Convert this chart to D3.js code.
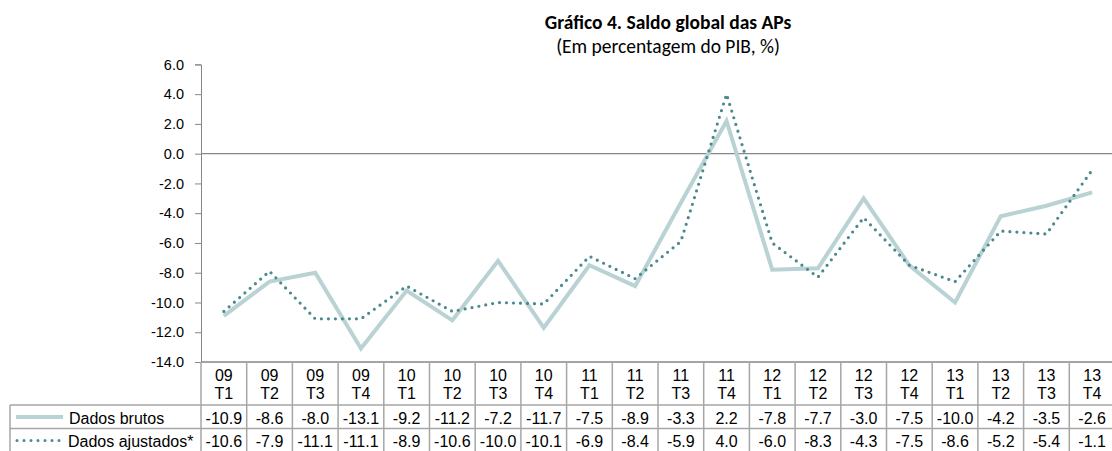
<!DOCTYPE html>
<html><head><meta charset="utf-8">
<script src="https://cdn.jsdelivr.net/npm/d3@7"></script>
<style>html,body{margin:0;padding:0;background:#fff;overflow:hidden}</style>
</head><body>
<svg id="c" width="1112" height="451"></svg>
<script>
const years = ["09","09","09","09","10","10","10","10","11","11","11","11","12","12","12","12","13","13","13","13"];
const quarters = ["T1","T2","T3","T4","T1","T2","T3","T4","T1","T2","T3","T4","T1","T2","T3","T4","T1","T2","T3","T4"];
const brutos = [-10.9,-8.6,-8.0,-13.1,-9.2,-11.2,-7.2,-11.7,-7.5,-8.9,-3.3,2.2,-7.8,-7.7,-3.0,-7.5,-10.0,-4.2,-3.5,-2.6];
const ajustados = [-10.6,-7.9,-11.1,-11.1,-8.9,-10.6,-10.0,-10.1,-6.9,-8.4,-5.9,4.0,-6.0,-8.3,-4.3,-7.5,-8.6,-5.2,-5.4,-1.1];
const yTicks = [6,4,2,0,-2,-4,-6,-8,-10,-12,-14];
const seriesNames = ["Dados brutos","Dados ajustados*"];
const title = "Gráfico 4. Saldo global das APs";
const subtitle = "(Em percentagem do PIB, %)";

const svg = d3.select("#c");
const axisX = 201, colW = 45.7, plotRight = axisX + 20*colW;
const yTop = 64.4, yBot = 362;
const rowH = 405, row1 = 428.5, row2 = 452;
const tableLeft = 10;
const gridC = "#a6a6a6", axisC = "#868686";
const rawC = "#b9d2d3", adjC = "#4a898e";

const cats = years.map((y,i)=>y+"-"+quarters[i]);
const x = d3.scaleBand().domain(cats).range([axisX, plotRight]).padding(0);
const y = d3.scaleLinear().domain([-14,6]).range([yBot, yTop]);

// title
svg.append("text").attr("x",668).attr("y",29).attr("text-anchor","middle")
  .attr("font-family","Carlito, Lato, sans-serif").attr("font-weight","bold").attr("font-size",19.5).text(title);
svg.append("text").attr("x",668).attr("y",53).attr("text-anchor","middle")
  .attr("font-family","Carlito, Lato, sans-serif").attr("font-size",19.5).text(subtitle);

// y axis
const yAxis = d3.axisLeft(y).tickValues(yTicks).tickFormat(d3.format(".1f")).tickSize(6).tickPadding(11);
const gy = svg.append("g").attr("transform",`translate(${axisX},0)`).call(yAxis);
gy.select(".domain").attr("stroke",axisC);
gy.selectAll(".tick line").attr("stroke",axisC);
gy.selectAll(".tick text").attr("font-family","Liberation Sans, Arial, sans-serif").attr("font-size",14.5).attr("fill","#000")
  .text(d=> d3.format(".1f")(d).replace("−","-"));

// zero line
svg.append("line").attr("x1",axisX).attr("x2",plotRight).attr("y1",y(0)).attr("y2",y(0)).attr("stroke",axisC).attr("stroke-width",1.2);

// table grid
const g = svg.append("g").attr("stroke",gridC).attr("stroke-width",1.5).attr("fill","none");
g.append("line").attr("x1",axisX).attr("x2",plotRight).attr("y1",yBot).attr("y2",yBot).attr("stroke",axisC);
g.append("line").attr("x1",tableLeft).attr("x2",plotRight).attr("y1",rowH).attr("y2",rowH);
g.append("line").attr("x1",tableLeft).attr("x2",plotRight).attr("y1",row1).attr("y2",row1);
g.append("line").attr("x1",tableLeft).attr("x2",tableLeft).attr("y1",rowH).attr("y2",row2);
cats.forEach((c,i)=>{
  g.append("line").attr("x1",x(c)).attr("x2",x(c)).attr("y1",yBot).attr("y2",row2);
});
g.append("line").attr("x1",plotRight).attr("x2",plotRight).attr("y1",yBot).attr("y2",row2);

// header text
const tf = "Liberation Sans, Arial, sans-serif";
const hdr = svg.append("g").attr("font-family",tf).attr("font-size",16).attr("text-anchor","middle").attr("fill","#000");
cats.forEach((c,i)=>{
  const cx = x(c)+x.bandwidth()/2;
  hdr.append("text").attr("x",cx).attr("y",381).text(years[i]);
  hdr.append("text").attr("x",cx).attr("y",399).text(quarters[i]);
  hdr.append("text").attr("x",cx).attr("y",423.5).text(brutos[i].toFixed(1));
  hdr.append("text").attr("x",cx).attr("y",447).text(ajustados[i].toFixed(1));
});

// legend cells
svg.append("line").attr("x1",16).attr("x2",63).attr("y1",417).attr("y2",417).attr("stroke",rawC).attr("stroke-width",4);
svg.append("line").attr("x1",17).attr("x2",62).attr("y1",440.5).attr("y2",440.5).attr("stroke",adjC).attr("stroke-width",3)
  .attr("stroke-linecap","round").attr("stroke-dasharray","0 7");
svg.append("text").attr("x",69).attr("y",423.5).attr("font-family",tf).attr("font-size",16).text(seriesNames[0]);
svg.append("text").attr("x",68).attr("y",447).attr("font-family",tf).attr("font-size",16).text(seriesNames[1]);

// lines
const line = d3.line().x((d,i)=>x(cats[i])+x.bandwidth()/2).y(d=>y(d));
svg.append("path").datum(brutos).attr("d",line).attr("fill","none").attr("stroke",rawC).attr("stroke-width",4).attr("stroke-linejoin","miter");
svg.append("path").datum(ajustados).attr("d",line).attr("fill","none").attr("stroke",adjC).attr("stroke-width",3.2)
  .attr("stroke-linecap","round").attr("stroke-linejoin","round").attr("stroke-dasharray","0 7");
</script>
</body></html>
